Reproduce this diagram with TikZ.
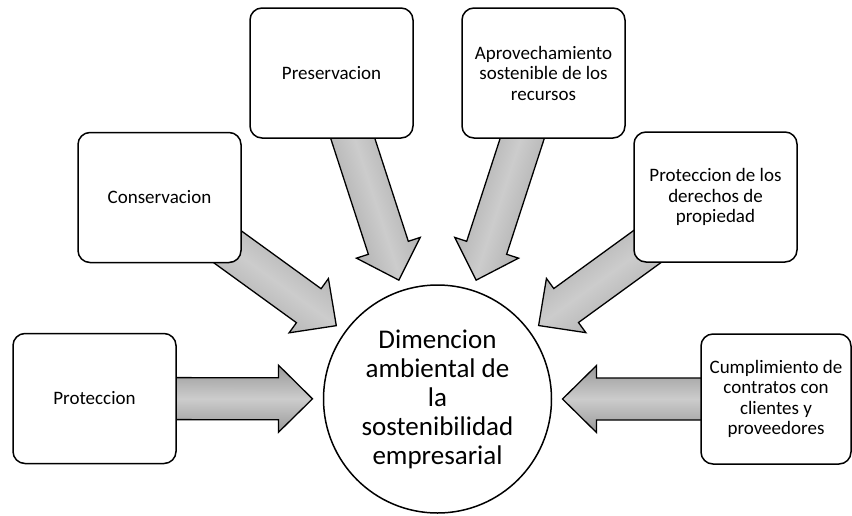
\documentclass[tikz,border=0pt]{standalone}
\usepackage{fontspec}
\setmainfont{Carlito}
\usetikzlibrary{calc,backgrounds}

\begin{document}
\begin{tikzpicture}[x=1pt, y=-1pt,
    caja/.style={draw, line width=1.5pt, rounded corners=12pt, fill=white, minimum width=163pt, minimum height=130pt, align=center, font=\fontsize{19}{20.5}\selectfont},
    centro/.style={draw, line width=1.5pt, circle, fill=white, minimum size=228pt, inner sep=0pt, align=center, font=\fontsize{27}{29}\selectfont},
    flecha/.style={draw=black, line width=1.3pt, line join=miter, top color=black!40, bottom color=black!40, middle color=black!20}
]
\useasboundingbox (0,0) rectangle (852,515);
\node[centro] (dim) at (437.5,399) {Dimencion\\ambiental de\\la\\sostenibilidad\\empresarial};
\node[caja] (prot) at (94.5,398.5) {Proteccion};
\node[caja] (cons) at (159.5,197.5) {Conservacion};
\node[caja] (pres) at (331.5,73) {Preservacion};
\node[caja] (apro) at (543.5,73) {Aprovechamiento\\sostenible de los\\recursos};
\node[caja] (dere) at (715.5,197) {Proteccion de los\\derechos de\\propiedad};
\node[caja, minimum width=150pt] (cump) at (776,399) {Cumplimiento de\\contratos con\\clientes y\\proveedores};

% flechas detras de las cajas
\begin{scope}[on background layer]
\foreach \bx in {prot,cons,pres,apro,dere,cump}{
  \pgfmathanglebetweenpoints{\pgfpointanchor{dim}{center}}{\pgfpointanchor{\bx}{center}}
  \let\arrang\pgfmathresult
  \coordinate (t) at ($(dim.center)!125pt!(\bx.center)$);
  \coordinate (h) at ($(dim.center)!159pt!(\bx.center)$);
  \draw[flecha, shading angle=\arrang] (t) -- ($(h)!33.5pt!90:(t)$) -- ($(h)!21pt!90:(t)$)
    -- ($(\bx.center)!21pt!90:(t)$) -- ($(\bx.center)!21pt!-90:(t)$)
    -- ($(h)!21pt!-90:(t)$) -- ($(h)!33.5pt!-90:(t)$) -- cycle;
}
\end{scope}
\end{tikzpicture}
\end{document}
